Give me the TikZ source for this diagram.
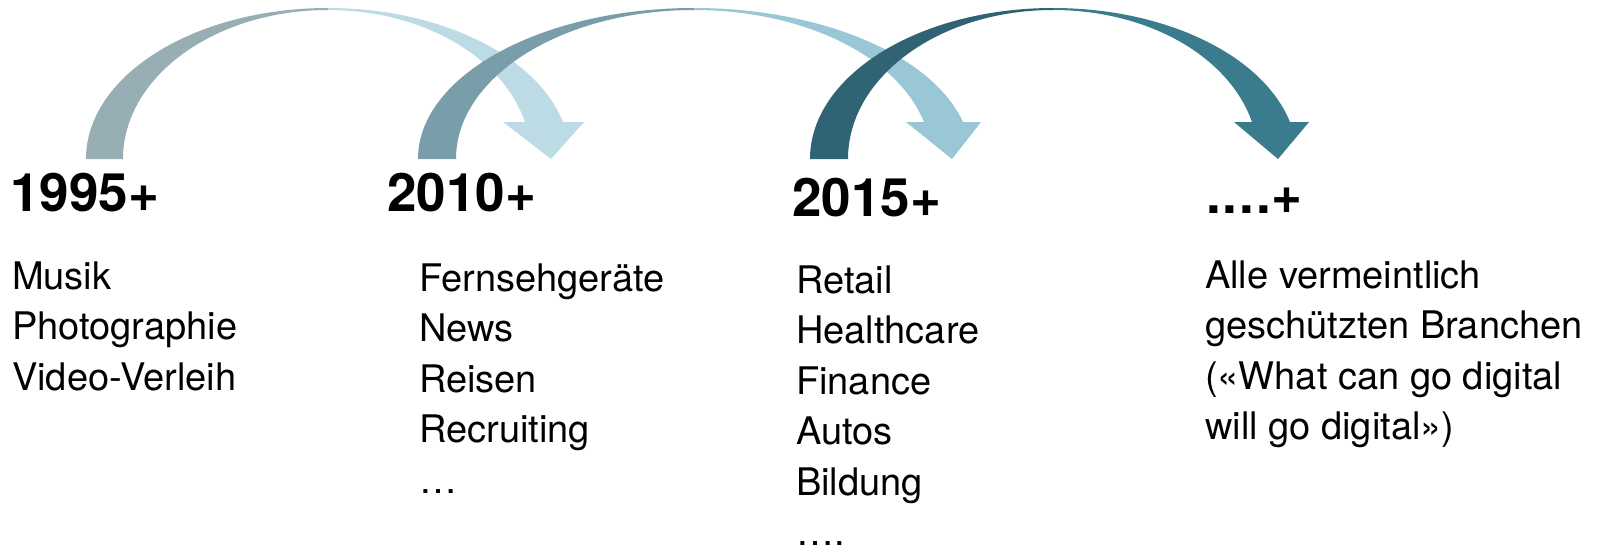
\documentclass[tikz,border=0pt]{standalone}
\usepackage{fontspec}
\setmainfont{TeX Gyre Heros}
\definecolor{aL1}{HTML}{97AEB5}
\definecolor{aR1}{HTML}{BCDBE4}
\definecolor{aL2}{HTML}{7A9EA9}
\definecolor{aR2}{HTML}{9AC7D6}
\definecolor{aL3}{HTML}{306474}
\definecolor{aR3}{HTML}{3B7B8E}
% #1 idx, #2 cx, #3 foot outer, #4 foot inner, #5 shaft inner, #6 shaft outer, #7 head left, #8 head right, #9 tip
\newcommand\bigarrow[9]{%
  \pgfmathsetmacro\Lo{#2-#3}%
  \pgfmathsetmacro\Li{#2-#4}%
  \pgfmathsetmacro\Ro{(#6-#2)/0.97}%
  \pgfmathsetmacro\Ri{(#5-#2)/0.97}%
  \fill[aL#1] (#3,159) .. controls (#3,{159-0.552*151}) and ({#2-0.552*\Lo},8) .. (#2,8)
     -- (#2,10) .. controls ({#2-0.552*\Li},10) and (#4,{159-0.552*149}) .. (#4,159) -- cycle;
  \fill[aR#1] (#2,8) .. controls ({#2+0.459*\Ro},8) and ({#6-0.459*0.245*\Ro},{122-0.459*0.97*151}) .. (#6,122)
     -- (#8,122) -- (#9,159) -- (#7,122) -- (#5,122)
     .. controls ({#5-0.459*0.248*\Ri},{122-0.459*0.97*149}) and ({#2+0.459*\Ri},10) .. (#2,10) -- cycle;
}
\newcommand\dotsep{\kern2pt}
\tikzset{
  head/.style={anchor=base west, inner sep=0pt, font=\fontsize{53}{60}\selectfont\bfseries},
  item/.style={anchor=base west, inner sep=0pt, font=\fontsize{38}{46}\selectfont}
}
\begin{document}
\begin{tikzpicture}[x=1pt,y=-1pt]
\useasboundingbox[fill=white] (0,0) rectangle (1601,552);
\bigarrow{1}{328}{86}{123}{525}{563}{503}{584}{551}
\bigarrow{2}{694}{418}{456}{924}{963}{906}{981}{952}
\bigarrow{3}{1053}{810}{848}{1252}{1290}{1234}{1309}{1278}
% headings
\node[head] (h1) at (10,211) {1995+};
\node[head] (h2) at (387,211) {2010+};
\node[head] (h3) at (792,216) {2015+};
\node[head] (h4) at (1206,213) {.\dotsep.\dotsep.\dotsep.+};
% column 1
\node[item] (a1) at (12,289) {Musik};
\node[item] (a2) at (12,339.5) {Photographie};
\node[item] (a3) at (12,390) {Video-Verleih};
% column 2
\node[item] (b1) at (419,291) {Fernsehgeräte};
\node[item] (b2) at (419,341.5) {News};
\node[item] (b3) at (419,392) {Reisen};
\node[item] (b4) at (419,442.5) {Recruiting};
\node[item] (b5) at (419,493) {…};
% column 3
\node[item] (c1) at (796,293) {Retail};
\node[item] (c2) at (796,343.5) {Healthcare};
\node[item] (c3) at (796,394) {Finance};
\node[item] (c4) at (796,444.5) {Autos};
\node[item] (c5) at (796,495) {Bildung};
\node[item] (c6) at (796,545.5) {….};
% column 4
\node[item] (d1) at (1205,288) {Alle vermeintlich};
\node[item] (d2) at (1205,338.5) {geschützten Branchen};
\node[item] (d3) at (1205,389) {(«What can go digital};
\node[item] (d4) at (1205,439.5) {will go digital»)};
\end{tikzpicture}
\end{document}
